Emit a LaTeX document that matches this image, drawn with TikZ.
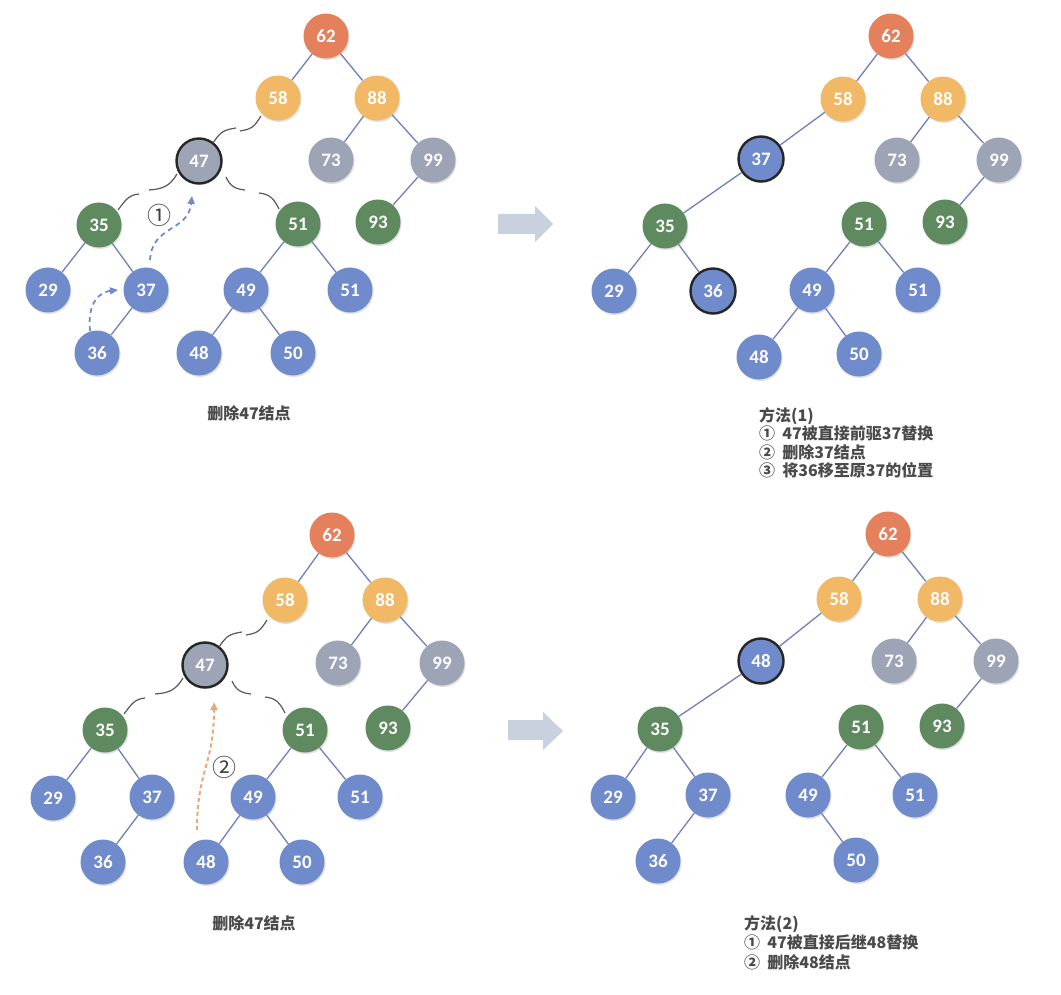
\documentclass[tikz,border=0pt]{standalone}
\usepackage{fontspec}
\setmainfont{Carlito}
\newfontfamily\cjk{Noto Sans CJK SC}
\usetikzlibrary{arrows.meta,calc,shadows}
\definecolor{cred}{HTML}{E5805C}
\definecolor{corg}{HTML}{F1B866}
\definecolor{cgray}{HTML}{9DA4B6}
\definecolor{cgreen}{HTML}{5F8A5F}
\definecolor{cblue}{HTML}{6F8BCB}
\definecolor{cedge}{HTML}{6F80BA}
\definecolor{carrow}{HTML}{C9D0DE}
\definecolor{ctext}{HTML}{4A4A4A}
\definecolor{cdashb}{HTML}{6F8BCB}
\definecolor{cdasho}{HTML}{E9A878}
\tikzset{
  tn/.style={circle, minimum size=45pt, inner sep=0pt, text=white,
    font=\fontsize{19}{19}\selectfont\bfseries,
    drop shadow={shadow xshift=1pt, shadow yshift=-1.5pt, fill=black, opacity=0.12}},
  nred/.style={tn, fill=cred},
  norg/.style={tn, fill=corg},
  ngray/.style={tn, fill=cgray},
  ngreen/.style={tn, fill=cgreen},
  nblue/.style={tn, fill=cblue},
  sel/.style={draw=black!85, line width=2.4pt},
  edge/.style={draw=cedge, line width=1.3pt},
  wav/.style={draw=black!65, line width=1.2pt},
  barrow/.style={draw=cdashb, line width=1.8pt, dash pattern=on 5pt off 4pt, -{Triangle[length=8pt,width=7pt]}},
  oarrow/.style={draw=cdasho, line width=2pt, dash pattern=on 4pt off 3pt, -{Triangle[length=8pt,width=7pt]}},
  captxt/.style={text=ctext, font=\cjk\bfseries\fontsize{16}{16}\selectfont},
  circnum/.style={text=black!75, font=\cjk\fontsize{24}{24}\selectfont, inner sep=0pt},
  blockarrow/.style={fill=carrow}
}
\newcommand\wavylinks[1]{%
  \draw[wav] ($(#1)+(14,-18)$) .. controls ($(#1)+(22,-30)$) and ($(#1)+(25,-31)$) .. ($(#1)+(37,-33)$);
  \draw[wav] ($(#1)+(41,-30)$) .. controls ($(#1)+(53,-32)$) and ($(#1)+(55,-34)$) .. ($(#1)+(62,-45)$);
  \draw[wav] ($(#1)+(-22,13)$) .. controls ($(#1)+(-29,25)$) and ($(#1)+(-36,28)$) .. ($(#1)+(-50,29)$);
  \draw[wav] ($(#1)+(-60,33)$) .. controls ($(#1)+(-71,34)$) and ($(#1)+(-74,40)$) .. ($(#1)+(-81,49)$);
  \draw[wav] ($(#1)+(27,16)$) .. controls ($(#1)+(31,25)$) and ($(#1)+(36,28)$) .. ($(#1)+(46,29)$);
  \draw[wav] ($(#1)+(60,32)$) .. controls ($(#1)+(71,33)$) and ($(#1)+(75,38)$) .. ($(#1)+(80,48)$);
}
\begin{document}
\begin{tikzpicture}[x=1pt,y=-1pt]
\useasboundingbox (0,0) rectangle (1061,995);
\fill[white] (0,0) rectangle (1061,995);

% ---------- Tree A (top left) ----------
\node[nred]   (a62)  at (326,36)  {62};
\node[norg]   (a58)  at (278,98)  {58};
\node[norg]   (a88)  at (377,98)  {88};
\node[ngray,sel] (a47) at (199,161) {47};
\node[ngray]  (a73)  at (331,160) {73};
\node[ngray]  (a99)  at (433,160) {99};
\node[ngreen] (a35)  at (99,225)  {35};
\node[ngreen] (a51)  at (298,224) {51};
\node[ngreen] (a93)  at (378,222) {93};
\node[nblue]  (a29)  at (48,290)  {29};
\node[nblue]  (a37)  at (146,290) {37};
\node[nblue]  (a49)  at (246,290) {49};
\node[nblue]  (a51b) at (350,290) {51};
\node[nblue]  (a36)  at (97,353)  {36};
\node[nblue]  (a48)  at (199,353) {48};
\node[nblue]  (a50)  at (293,353) {50};
\draw[edge] (a62)--(a58) (a62)--(a88) (a88)--(a73) (a88)--(a99) (a99)--(a93)
  (a35)--(a29) (a35)--(a37) (a37)--(a36) (a51)--(a49) (a51)--(a51b) (a49)--(a48) (a49)--(a50);
\wavylinks{a47}
\coordinate (a36s) at (90,331);
\coordinate (a37t) at (118,290);
\coordinate (a37s) at (150,260);
\coordinate (a47t) at (192,196);
\draw[barrow] (a36s) .. controls (87,302) and (100,292) .. (a37t);
\draw[barrow] (a37s) .. controls (152,225) and (188,232) .. (a47t);
\node[circnum] (m1) at (159,215) {①};
\node[captxt] (capA) at (249,413) {删除47结点};

% ---------- Block arrows ----------
\fill[blockarrow] (498,214) -- (535,214) -- (535,206) -- (553,224) -- (535,242) -- (535,234) -- (498,234) -- cycle;
\fill[blockarrow] (508,720) -- (543,720) -- (543,712) -- (563,731) -- (543,750) -- (543,740) -- (508,740) -- cycle;

% ---------- Tree B (top right) ----------
\node[nred]   (b62)  at (891,36)  {62};
\node[norg]   (b58)  at (843,99)  {58};
\node[norg]   (b88)  at (943,99)  {88};
\node[nblue,sel] (b37) at (761,159) {37};
\node[ngray]  (b73)  at (897,160) {73};
\node[ngray]  (b99)  at (999,160) {99};
\node[ngreen] (b35)  at (665,226) {35};
\node[ngreen] (b51)  at (864,224) {51};
\node[ngreen] (b93)  at (945,222) {93};
\node[nblue]  (b29)  at (614,291) {29};
\node[nblue,sel] (b36) at (713,291) {36};
\node[nblue]  (b49)  at (812,290) {49};
\node[nblue]  (b51b) at (918,290) {51};
\node[nblue]  (b48)  at (759,357) {48};
\node[nblue]  (b50)  at (859,354) {50};
\draw[edge] (b62)--(b58) (b62)--(b88) (b58)--(b37) (b88)--(b73) (b88)--(b99) (b99)--(b93)
  (b37)--(b35) (b35)--(b29) (b35)--(b36) (b51)--(b49) (b51)--(b51b) (b49)--(b48) (b49)--(b50);
\node[captxt, anchor=north west, align=left, font=\cjk\bfseries\fontsize{16}{18.5}\selectfont, inner sep=0pt] (txtB) at (759,407)
  {方法(1)\\①\hspace{0.45em}47被直接前驱37替换\\②\hspace{0.45em}删除37结点\\③\hspace{0.45em}将36移至原37的位置};

% ---------- Tree C (bottom left) ----------
\node[nred]   (c62)  at (332,535) {62};
\node[norg]   (c58)  at (285,600) {58};
\node[norg]   (c88)  at (385,600) {88};
\node[ngray,sel] (c47) at (205,665) {47};
\node[ngray]  (c73)  at (338,663) {73};
\node[ngray]  (c99)  at (442,663) {99};
\node[ngreen] (c35)  at (105,730) {35};
\node[ngreen] (c51)  at (305,730) {51};
\node[ngreen] (c93)  at (388,728) {93};
\node[nblue]  (c29)  at (53,798)  {29};
\node[nblue]  (c37)  at (152,797) {37};
\node[nblue]  (c49)  at (253,797) {49};
\node[nblue]  (c51b) at (360,797) {51};
\node[nblue]  (c36)  at (103,862) {36};
\node[nblue]  (c48)  at (206,862) {48};
\node[nblue]  (c50)  at (302,862) {50};
\draw[edge] (c62)--(c58) (c62)--(c88) (c88)--(c73) (c88)--(c99) (c99)--(c93)
  (c35)--(c29) (c35)--(c37) (c37)--(c36) (c51)--(c49) (c51)--(c51b) (c49)--(c48) (c49)--(c50);
\wavylinks{c47}
\coordinate (c48s) at (197,830);
\coordinate (c47t) at (214,702);
\draw[oarrow] (c48s) .. controls (197,770) and (214,765) .. (c47t);
\node[circnum] (m2) at (224,767) {②};
\node[captxt] (capC) at (254,923) {删除47结点};

% ---------- Tree D (bottom right) ----------
\node[nred]   (d62)  at (888,534) {62};
\node[norg]   (d58)  at (839,599) {58};
\node[norg]   (d88)  at (940,599) {88};
\node[nblue,sel] (d48) at (761,661) {48};
\node[ngray]  (d73)  at (894,661) {73};
\node[ngray]  (d99)  at (996,661) {99};
\node[ngreen] (d35)  at (660,729) {35};
\node[ngreen] (d51)  at (861,727) {51};
\node[ngreen] (d93)  at (942,726) {93};
\node[nblue]  (d29)  at (613,797) {29};
\node[nblue]  (d37)  at (708,795) {37};
\node[nblue]  (d49)  at (808,795) {49};
\node[nblue]  (d51b) at (915,795) {51};
\node[nblue]  (d36)  at (658,861) {36};
\node[nblue]  (d50)  at (856,860) {50};
\draw[edge] (d62)--(d58) (d62)--(d88) (d58)--(d48) (d88)--(d73) (d88)--(d99) (d99)--(d93)
  (d48)--(d35) (d35)--(d29) (d35)--(d37) (d37)--(d36) (d51)--(d49) (d51)--(d51b) (d49)--(d50);
\node[captxt, anchor=north west, align=left, font=\cjk\bfseries\fontsize{16}{19.5}\selectfont, inner sep=0pt] (txtD) at (744,915)
  {方法(2)\\①\hspace{0.45em}47被直接后继48替换\\②\hspace{0.45em}删除48结点};
\end{tikzpicture}
\end{document}
